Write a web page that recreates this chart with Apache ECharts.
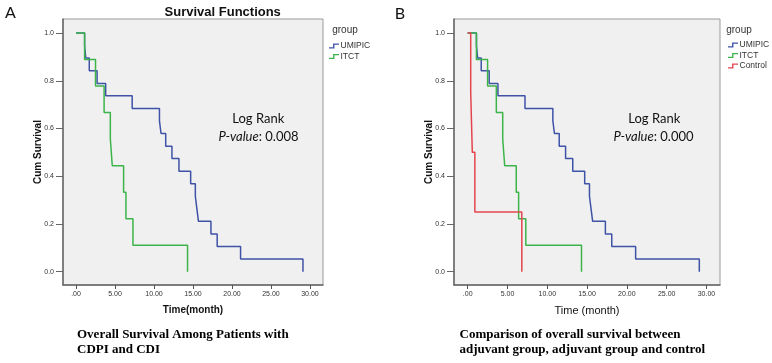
<!DOCTYPE html>
<html>
<head>
<meta charset="utf-8">
<script src="https://cdn.jsdelivr.net/npm/echarts@6/dist/echarts.min.js"></script>
<style>
  html, body { margin: 0; padding: 0; background: #fff; }
  #chart { width: 772px; height: 363px; }
</style>
</head>
<body>
<div id="chart"></div>
<script>
// Kaplan-Meier step values (time in months, cum survival)
const umipicTime = [0, 1.1, 1.25, 1.7, 2.7, 3.8, 7.2, 10.7, 10.9, 11.5, 12.3, 13.2, 14.7, 15.3, 15.5, 15.7, 17.3, 18.1, 21.1, 29.1];
const umipicSurv = [1.0, 0.947, 0.895, 0.842, 0.789, 0.737, 0.684, 0.632, 0.579, 0.526, 0.474, 0.421, 0.368, 0.316, 0.263, 0.211, 0.158, 0.105, 0.053, 0.0];
const itctTime = [0, 1.1, 2.5, 3.6, 4.4, 4.65, 6.1, 6.4, 7.3, 14.3];
const itctSurv = [1.0, 0.889, 0.778, 0.667, 0.556, 0.444, 0.333, 0.222, 0.111, 0.0];
const controlTime = [0, 0.38, 0.58, 0.9, 6.8];
const controlSurv = [1.0, 0.75, 0.5, 0.25, 0.0];

const xTicks = [0, 5, 10, 15, 20, 25, 30];
const xTickLabels = ['.00', '5.00', '10.00', '15.00', '20.00', '25.00', '30.00'];
const yTicks = [0, 0.2, 0.4, 0.6, 0.8, 1.0];
const yTickLabels = ['0.0', '0.2', '0.4', '0.6', '0.8', '1.0'];

const colors = { UMIPIC: '#3e52a6', ITCT: '#3cb44a', Control: '#e4454d' };

function zip(t, s) {
  return t.map((v, i) => [v, s[i]]);
}

function xAxis(gridIndex, min, max, name, bold, size) {
  return {
    type: 'value', gridIndex, min, max,
    name, nameLocation: 'middle', nameGap: 20, nameMoveOverlap: false,
    nameTextStyle: { fontFamily: 'Liberation Sans', fontSize: size, fontWeight: bold ? 'bold' : 'normal', color: '#111' },
    axisLine: { show: true, onZero: false, lineStyle: { color: '#666', width: 1.5 } },
    axisTick: { show: true, length: 4, customValues: xTicks, lineStyle: { color: '#555' } },
    axisLabel: {
      customValues: xTicks, margin: 6, fontSize: 7, color: '#333', fontFamily: 'Liberation Sans',
      formatter: v => xTickLabels[xTicks.indexOf(v)]
    },
    splitLine: { show: false }
  };
}

function yAxis(gridIndex) {
  return {
    type: 'value', gridIndex, min: -0.056, max: 1.059,
    name: 'Cum Survival', nameLocation: 'middle', nameGap: 20, nameMoveOverlap: false,
    nameTextStyle: { fontFamily: 'Liberation Sans', fontSize: 10, fontWeight: 'bold', color: '#111' },
    axisLine: { show: true, onZero: false, lineStyle: { color: '#666', width: 1.5 } },
    axisTick: { show: true, length: 7, customValues: yTicks, lineStyle: { color: '#666' } },
    axisLabel: {
      customValues: yTicks, margin: 9, fontSize: 7, color: '#333', fontFamily: 'Liberation Sans',
      formatter: v => yTickLabels[yTicks.indexOf(Math.round(v * 10) / 10)]
    },
    splitLine: { show: false }
  };
}

function kmSeries(name, t, s, idx) {
  return {
    name, type: 'line', step: 'end', xAxisIndex: idx, yAxisIndex: idx,
    data: zip(t, s), showSymbol: false, symbol: 'none', animation: false,
    color: colors[name],
    lineStyle: { color: colors[name], width: 1.5 }
  };
}

// step shaped legend icon, like the SPSS key
const stepIcon = 'path://M0,8 L9,8 L9,0 L22,0 L22,3 L12,3 L12,11 L0,11 Z';

function legend(left, top, names) {
  return {
    orient: 'vertical', left, top, padding: 0, icon: stepIcon,
    itemWidth: 11, itemHeight: 5, itemGap: 0.5,
    selectedMode: false, data: names,
    textStyle: { fontFamily: 'Liberation Sans', fontSize: 8.5, color: '#333', lineHeight: 10, padding: [0, 0, 0, -4] }
  };
}

let chart = echarts.init(document.getElementById('chart'), null, { renderer: 'canvas' });

const option = {
  animation: false,
  grid: [
    { left: 63, top: 19, width: 260, height: 266, show: true, backgroundColor: '#f0f0f0', borderColor: '#9a9a9a', borderWidth: 1 },
    { left: 454, top: 19, width: 266, height: 266, show: true, backgroundColor: '#f0f0f0', borderColor: '#9a9a9a', borderWidth: 1 }
  ],
  xAxis: [
    xAxis(0, -1.67, 31.67, 'Time(month)', true, 10),
    xAxis(1, -1.72, 31.7, 'Time (month)', false, 11)
  ],
  yAxis: [yAxis(0), yAxis(1)],
  legend: [
    legend(329, 41, ['UMIPIC', 'ITCT']),
    legend(728, 40, ['UMIPIC', 'ITCT', 'Control'])
  ],
  series: [
    kmSeries('UMIPIC', umipicTime, umipicSurv, 0),
    kmSeries('ITCT', itctTime, itctSurv, 0),
    kmSeries('UMIPIC', umipicTime, umipicSurv, 1),
    kmSeries('ITCT', itctTime, itctSurv, 1),
    kmSeries('Control', controlTime, controlSurv, 1)
  ],
  graphic: [
    { type: 'text', x: 10.5, y: 13, style: { text: 'A', fontFamily: 'Lato', fontSize: 16, fill: '#111', align: 'center', verticalAlign: 'middle' } },
    { type: 'text', x: 400, y: 13.5, style: { text: 'B', fontFamily: 'Lato', fontSize: 16, fill: '#111', align: 'center', verticalAlign: 'middle' } },
    { type: 'text', x: 222.7, y: 12.5, style: { text: 'Survival Functions', fontFamily: 'Liberation Sans', fontSize: 13, fontWeight: 'bold', fill: '#111', align: 'center', verticalAlign: 'middle' } },
    { type: 'text', x: 345, y: 30, style: { text: 'group', fontFamily: 'Liberation Sans', fontSize: 10, fill: '#333', align: 'center', verticalAlign: 'middle' } },
    { type: 'text', x: 739, y: 30.5, style: { text: 'group', fontFamily: 'Liberation Sans', fontSize: 10, fill: '#333', align: 'center', verticalAlign: 'middle' } },
    { type: 'text', x: 258.3, y: 119, style: { text: 'Log Rank', fontFamily: 'Lato', fontSize: 13, fill: '#111', align: 'center', verticalAlign: 'middle' } },
    { type: 'text', x: 258.5, y: 137, style: {
      text: '{it|P-value}: 0.008', fontFamily: 'Lato', fontSize: 13, fill: '#111', align: 'center', verticalAlign: 'middle',
      rich: { it: { fontStyle: 'italic', fontFamily: 'Lato', fontSize: 13, fill: '#111' } }
    } },
    { type: 'text', x: 654.3, y: 119, style: { text: 'Log Rank', fontFamily: 'Lato', fontSize: 13, fill: '#111', align: 'center', verticalAlign: 'middle' } },
    { type: 'text', x: 653.5, y: 137, style: {
      text: '{it|P-value}: 0.000', fontFamily: 'Lato', fontSize: 13, fill: '#111', align: 'center', verticalAlign: 'middle',
      rich: { it: { fontStyle: 'italic', fontFamily: 'Lato', fontSize: 13, fill: '#111' } }
    } },
    { type: 'text', x: 77, y: 342.5, style: {
      text: 'Overall Survival Among Patients with\nCDPI and CDI', fontFamily: 'Liberation Serif', fontSize: 13, fontWeight: 'bold',
      lineHeight: 15, fill: '#000', align: 'left', verticalAlign: 'middle'
    } },
    { type: 'text', x: 459.5, y: 342.5, style: {
      text: 'Comparison of overall survival between\nadjuvant group, adjuvant group and control', fontFamily: 'Liberation Serif', fontSize: 13, fontWeight: 'bold',
      lineHeight: 15, fill: '#000', align: 'left', verticalAlign: 'middle'
    } }
  ]
};

chart.setOption(option);
</script>
</body>
</html>
